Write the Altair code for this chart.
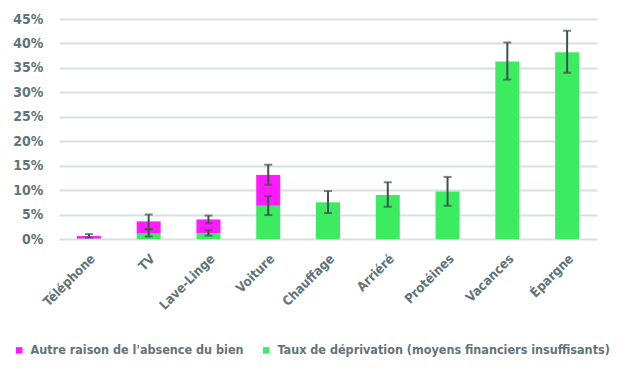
import altair as alt
import pandas as pd

categories = ["Téléphone", "TV", "Lave-Linge", "Voiture", "Chauffage",
              "Arriéré", "Protéines", "Vacances", "Épargne"]
taux = [0.1, 1.1, 1.2, 6.8, 7.5, 9.0, 9.7, 36.3, 38.2]
autre = [0.5, 2.5, 2.8, 6.3, 0.0, 0.0, 0.0, 0.0, 0.0]
# error bars on the deprivation rate (green)
taux_lo = [None, 0.5, 0.7, 4.9, 5.3, 6.6, 6.8, 32.6, 34.0]
taux_hi = [None, 2.0, 1.8, 8.75, 9.8, 11.6, 12.7, 40.2, 42.6]
# error bars on the total (green + magenta)
tot_lo = [0.3, 2.0, 3.2, 11.1, None, None, None, None, None]
tot_hi = [1.0, 5.0, 4.8, 15.2, None, None, None, None, None]
y_ticks = [0, 5, 10, 15, 20, 25, 30, 35, 40, 45]

S_AUTRE = "Autre raison de l'absence du bien"
S_TAUX = "Taux de déprivation (moyens financiers insuffisants)"

FONT = "DejaVu Sans Condensed"
TXT = "#5F7479"
MAGENTA = "#FF1AFF"
GREEN = "#3BEB60"
ERR = "#3F5050"

rows = []
for c, g, m in zip(categories, taux, autre):
    rows.append({"cat": c, "serie": S_TAUX, "val": g, "ord": 0})
    rows.append({"cat": c, "serie": S_AUTRE, "val": m, "ord": 1})
bars_df = pd.DataFrame(rows)

err_rows = []
for c, lo, hi in zip(categories, taux_lo, taux_hi):
    if lo is not None:
        err_rows.append({"cat": c, "lo": lo, "hi": hi})
for c, lo, hi in zip(categories, tot_lo, tot_hi):
    if lo is not None:
        err_rows.append({"cat": c, "lo": lo, "hi": hi})
err_df = pd.DataFrame(err_rows)

x_axis = alt.Axis(labelAngle=-45, labelFont=FONT, labelFontSize=13,
                  labelFontWeight="bold", labelColor=TXT, ticks=False, tickSize=0,
                  domain=False, labelPadding=13, grid=False, labelOverlap=False,
                  title=None)
x_scale = alt.Scale(paddingInner=0.0, paddingOuter=0.0)
xband = alt.X("cat:N", sort=categories, title=None, scale=x_scale, axis=x_axis)

y_axis = alt.Axis(values=y_ticks, title=None,
                  labelExpr="datum.value + '%'", labelOverlap=False,
                  labelFont=FONT, labelFontSize=14, labelFontWeight="bold",
                  labelColor=TXT, labelPadding=16, ticks=False, tickSize=0,
                  domain=False, grid=True, gridColor="#D8E0DE", gridWidth=2)
y_scale = alt.Scale(domain=[0, 45], nice=False)

bars = alt.Chart(bars_df).mark_bar(size=24).encode(
    x=xband,
    y=alt.Y("val:Q", stack="zero", title=None, scale=y_scale, axis=y_axis),
    color=alt.Color("serie:N",
                    scale=alt.Scale(domain=[S_AUTRE, S_TAUX], range=[MAGENTA, GREEN]),
                    legend=alt.Legend(orient="none", legendX=-46, legendY=325,
                                      direction="horizontal", title=None,
                                      symbolType="square", symbolSize=42,
                                      symbolStrokeWidth=0, labelFont=FONT,
                                      labelFontSize=12.5, labelFontWeight="bold",
                                      labelColor=TXT, columnPadding=16, labelLimit=0,
                                      symbolOffset=0, labelOffset=5, padding=0)),
    order=alt.Order("ord:Q"),
)

rules = alt.Chart(err_df).mark_rule(color=ERR, strokeWidth=2).encode(
    x=xband, y=alt.Y("lo:Q", title=None, scale=y_scale, axis=y_axis), y2="hi:Q")
cap_lo = alt.Chart(err_df).mark_tick(color=ERR, size=8, thickness=2).encode(
    x=xband, y=alt.Y("lo:Q", title=None, scale=y_scale, axis=y_axis))
cap_hi = alt.Chart(err_df).mark_tick(color=ERR, size=8, thickness=2).encode(
    x=xband, y=alt.Y("hi:Q", title=None, scale=y_scale, axis=y_axis))

chart = alt.layer(bars, rules, cap_lo, cap_hi).properties(
    width=538, height=220,
    autosize=alt.AutoSizeParams(type="none"),
    padding={"left": 51, "top": 11, "right": 20, "bottom": 130},
).configure_view(stroke=None)

chart.save("out.html", embed_options={"renderer": "svg", "actions": False})
